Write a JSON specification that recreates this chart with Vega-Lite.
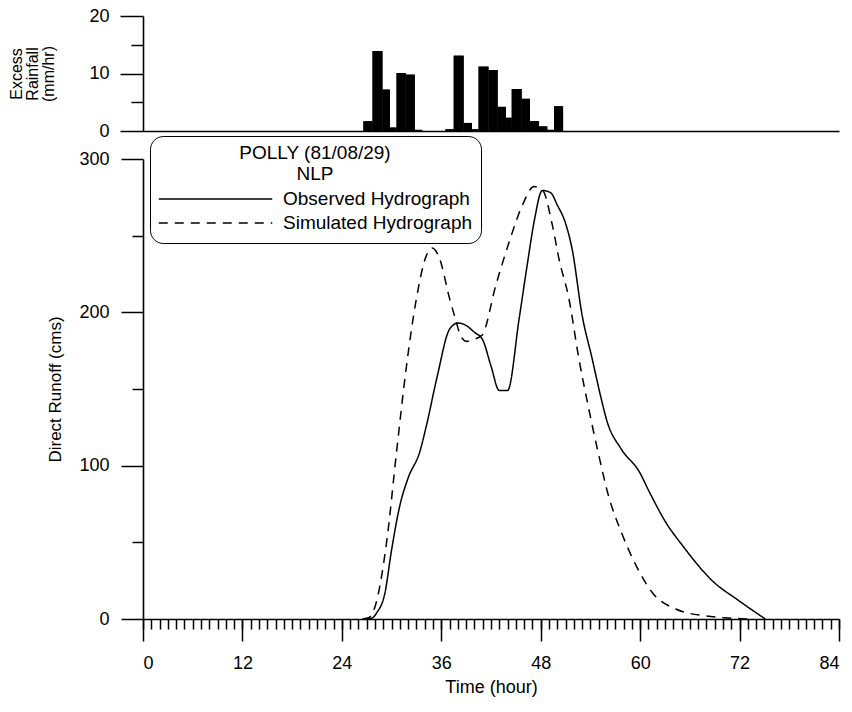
{
  "$schema": "https://vega.github.io/schema/vega-lite/v6.json",
  "background": "white",
  "padding": {"left": 8, "top": 7, "right": 2, "bottom": 2},
  "config": {
    "font": "Liberation Sans",
    "view": {"stroke": null},
    "axis": {
      "domainColor": "black", "tickColor": "black", "labelColor": "black", "titleColor": "black",
      "domainWidth": 1.6, "tickWidth": 1.5, "labelFontSize": 18, "titleFontSize": 17,
      "titleFontWeight": "normal", "grid": false
    }
  },
  "datasets": {
    "rain": [
      {"start": 26.6, "end": 27.7, "rain": 1.7},
      {"start": 27.7, "end": 28.9, "rain": 13.9},
      {"start": 28.9, "end": 29.8, "rain": 7.2},
      {"start": 29.8, "end": 30.6, "rain": 0.6},
      {"start": 30.6, "end": 31.7, "rain": 10.1},
      {"start": 31.7, "end": 32.8, "rain": 9.8},
      {"start": 32.8, "end": 33.7, "rain": 0.2},
      {"start": 36.5, "end": 37.5, "rain": 0.3},
      {"start": 37.5, "end": 38.7, "rain": 13.1},
      {"start": 38.7, "end": 39.7, "rain": 1.4},
      {"start": 39.7, "end": 40.5, "rain": 0.3},
      {"start": 40.5, "end": 41.7, "rain": 11.2},
      {"start": 41.7, "end": 42.8, "rain": 10.6},
      {"start": 42.8, "end": 43.8, "rain": 4.2},
      {"start": 43.8, "end": 44.5, "rain": 2.3},
      {"start": 44.5, "end": 45.7, "rain": 7.3},
      {"start": 45.7, "end": 46.7, "rain": 5.6},
      {"start": 46.7, "end": 47.8, "rain": 1.7},
      {"start": 47.8, "end": 48.8, "rain": 0.8},
      {"start": 48.8, "end": 49.6, "rain": 0.2},
      {"start": 49.6, "end": 50.7, "rain": 4.3}
    ],
    "flow": [
      {"series": "Observed Hydrograph", "hour": 27.0, "flow": 0},
      {"series": "Observed Hydrograph", "hour": 27.6, "flow": 0.5},
      {"series": "Observed Hydrograph", "hour": 28.2, "flow": 4},
      {"series": "Observed Hydrograph", "hour": 29.2, "flow": 17},
      {"series": "Observed Hydrograph", "hour": 30.0, "flow": 45},
      {"series": "Observed Hydrograph", "hour": 31.0, "flow": 74},
      {"series": "Observed Hydrograph", "hour": 32.0, "flow": 92},
      {"series": "Observed Hydrograph", "hour": 33.4, "flow": 109},
      {"series": "Observed Hydrograph", "hour": 34.2, "flow": 126},
      {"series": "Observed Hydrograph", "hour": 35.5, "flow": 158},
      {"series": "Observed Hydrograph", "hour": 37.0, "flow": 189},
      {"series": "Observed Hydrograph", "hour": 38.0, "flow": 193},
      {"series": "Observed Hydrograph", "hour": 38.8, "flow": 192},
      {"series": "Observed Hydrograph", "hour": 40.0, "flow": 187},
      {"series": "Observed Hydrograph", "hour": 41.0, "flow": 182},
      {"series": "Observed Hydrograph", "hour": 42.0, "flow": 165},
      {"series": "Observed Hydrograph", "hour": 43.0, "flow": 149},
      {"series": "Observed Hydrograph", "hour": 44.0, "flow": 149},
      {"series": "Observed Hydrograph", "hour": 45.4, "flow": 196},
      {"series": "Observed Hydrograph", "hour": 46.4, "flow": 232},
      {"series": "Observed Hydrograph", "hour": 47.2, "flow": 259},
      {"series": "Observed Hydrograph", "hour": 48.2, "flow": 279.5},
      {"series": "Observed Hydrograph", "hour": 49.2, "flow": 278},
      {"series": "Observed Hydrograph", "hour": 50.0, "flow": 270},
      {"series": "Observed Hydrograph", "hour": 51.0, "flow": 258},
      {"series": "Observed Hydrograph", "hour": 51.8, "flow": 241},
      {"series": "Observed Hydrograph", "hour": 53.0, "flow": 198},
      {"series": "Observed Hydrograph", "hour": 54.2, "flow": 170},
      {"series": "Observed Hydrograph", "hour": 55.2, "flow": 146},
      {"series": "Observed Hydrograph", "hour": 56.0, "flow": 129},
      {"series": "Observed Hydrograph", "hour": 57.7, "flow": 111},
      {"series": "Observed Hydrograph", "hour": 59.9, "flow": 96},
      {"series": "Observed Hydrograph", "hour": 61.1, "flow": 83},
      {"series": "Observed Hydrograph", "hour": 63.1, "flow": 63},
      {"series": "Observed Hydrograph", "hour": 65.1, "flow": 48},
      {"series": "Observed Hydrograph", "hour": 68.7, "flow": 25},
      {"series": "Observed Hydrograph", "hour": 71.9, "flow": 12},
      {"series": "Observed Hydrograph", "hour": 75.1, "flow": 0},
      {"series": "Simulated Hydrograph", "hour": 26.5, "flow": 0},
      {"series": "Simulated Hydrograph", "hour": 27.3, "flow": 1},
      {"series": "Simulated Hydrograph", "hour": 28.0, "flow": 8},
      {"series": "Simulated Hydrograph", "hour": 29.4, "flow": 50},
      {"series": "Simulated Hydrograph", "hour": 30.6, "flow": 109},
      {"series": "Simulated Hydrograph", "hour": 31.8, "flow": 165},
      {"series": "Simulated Hydrograph", "hour": 33.0, "flow": 209},
      {"series": "Simulated Hydrograph", "hour": 34.2, "flow": 237},
      {"series": "Simulated Hydrograph", "hour": 34.9, "flow": 242},
      {"series": "Simulated Hydrograph", "hour": 35.8, "flow": 235},
      {"series": "Simulated Hydrograph", "hour": 37.0, "flow": 209},
      {"series": "Simulated Hydrograph", "hour": 37.8, "flow": 194},
      {"series": "Simulated Hydrograph", "hour": 38.3, "flow": 185},
      {"series": "Simulated Hydrograph", "hour": 39.1, "flow": 181},
      {"series": "Simulated Hydrograph", "hour": 39.7, "flow": 182},
      {"series": "Simulated Hydrograph", "hour": 40.9, "flow": 185},
      {"series": "Simulated Hydrograph", "hour": 42.6, "flow": 218},
      {"series": "Simulated Hydrograph", "hour": 44.2, "flow": 246},
      {"series": "Simulated Hydrograph", "hour": 45.8, "flow": 270},
      {"series": "Simulated Hydrograph", "hour": 47.2, "flow": 282},
      {"series": "Simulated Hydrograph", "hour": 48.2, "flow": 280},
      {"series": "Simulated Hydrograph", "hour": 49.4, "flow": 257},
      {"series": "Simulated Hydrograph", "hour": 50.2, "flow": 235},
      {"series": "Simulated Hydrograph", "hour": 51.4, "flow": 209},
      {"series": "Simulated Hydrograph", "hour": 52.6, "flow": 170},
      {"series": "Simulated Hydrograph", "hour": 53.8, "flow": 137},
      {"series": "Simulated Hydrograph", "hour": 55.0, "flow": 107},
      {"series": "Simulated Hydrograph", "hour": 56.2, "flow": 80},
      {"series": "Simulated Hydrograph", "hour": 57.7, "flow": 57},
      {"series": "Simulated Hydrograph", "hour": 59.5, "flow": 35},
      {"series": "Simulated Hydrograph", "hour": 61.5, "flow": 17},
      {"series": "Simulated Hydrograph", "hour": 64.3, "flow": 6.5},
      {"series": "Simulated Hydrograph", "hour": 67.9, "flow": 2},
      {"series": "Simulated Hydrograph", "hour": 71.0, "flow": 0.5},
      {"series": "Simulated Hydrograph", "hour": 73.0, "flow": 0}
    ]
  },
  "bounds": "flush",
  "spacing": 28,
  "resolve": {"legend": {"strokeDash": "independent"}},
  "vconcat": [
    {
      "width": 696,
      "height": 115,
      "data": {"name": "rain"},
      "layer": [
        {
          "mark": {"type": "rect", "color": "black"},
          "encoding": {
            "x": {"field": "start", "type": "quantitative", "scale": {"domain": [0, 84], "nice": false},
                  "axis": {"orient": "bottom", "ticks": false, "labels": false, "title": null, "domain": true}},
            "x2": {"field": "end"},
            "y": {"field": "rain", "type": "quantitative", "scale": {"domain": [0, 20], "nice": false},
                  "axis": {"orient": "left", "values": [0, 10, 20], "tickSize": 23, "labelPadding": 11,
                           "title": ["Excess", "Rainfall", "(mm/hr)"], "titleFontSize": 16, "titlePadding": 32, "titleLineHeight": 16}},
            "y2": {"datum": 0}
          }
        },
        {
          "mark": {"type": "rect", "color": "black"},
          "encoding": {
            "x": {"field": "start", "type": "quantitative", "scale": {"domain": [0, 84], "nice": false},
                  "axis": {"orient": "bottom", "ticks": false, "labels": false, "title": null, "domain": true}},
            "x2": {"field": "end"},
            "y": {"field": "rain", "type": "quantitative", "scale": {"domain": [0, 20], "nice": false},
                  "axis": {"orient": "left", "values": [5, 15], "tickSize": 12, "labels": false, "domain": false, "title": null}},
            "y2": {"datum": 0}
          }
        }
      ],
      "resolve": {"axis": {"y": "independent"}}
    },
    {
      "width": 696,
      "height": 460,
      "data": {"name": "flow"},
      "layer": [
        {
          "mark": {"type": "line", "color": "black", "strokeWidth": 1.5, "interpolate": "monotone"},
          "encoding": {
            "x": {"field": "hour", "type": "quantitative", "scale": {"domain": [0, 84], "nice": false},
                  "axis": {"orient": "bottom", "values": [0, 12, 24, 36, 48, 60, 72, 84], "tickSize": 22,
                           "labelPadding": 13, "title": "Time (hour)", "titleFontSize": 18, "titlePadding": 6}},
            "y": {"field": "flow", "type": "quantitative", "scale": {"domain": [0, 300], "nice": false},
                  "axis": {"orient": "left", "values": [0, 100, 200, 300], "tickSize": 22, "labelPadding": 12,
                           "title": "Direct Runoff (cms)", "titlePadding": 14}},
            "strokeDash": {
              "field": "series", "type": "nominal",
              "scale": {"domain": ["Observed Hydrograph", "Simulated Hydrograph"], "range": [[1, 0], [9, 7]]},
              "legend": {
                "orient": "none", "legendX": 7, "legendY": -23,
                "title": ["POLLY (81/08/29)", "NLP"],
                "titleAnchor": "middle", "titleAlign": "center",
                "titleFontSize": 19, "titleFontWeight": "normal", "titleLineHeight": 21, "titleColor": "black",
                "titlePadding": 3,
                "labelFontSize": 19, "labelColor": "black", "labelOffset": 10, "labelLimit": 400,
                "symbolType": "stroke", "symbolSize": 12880, "symbolStrokeWidth": 1.5, "symbolStrokeColor": "black",
                "clipHeight": 24, "rowPadding": 0,
                "strokeColor": "black", "cornerRadius": 13, "padding": 8, "fillColor": "white"
              }
            }
          }
        },
        {
          "mark": {"type": "line", "strokeOpacity": 0},
          "encoding": {
            "x": {"field": "hour", "type": "quantitative", "scale": {"domain": [0, 84], "nice": false},
                  "axis": {"orient": "bottom", "values": [0,1,2,3,4,5,6,7,8,9,10,11,12,13,14,15,16,17,18,19,20,21,22,23,24,25,26,27,28,29,30,31,32,33,34,35,36,37,38,39,40,41,42,43,44,45,46,47,48,49,50,51,52,53,54,55,56,57,58,59,60,61,62,63,64,65,66,67,68,69,70,71,72,73,74,75,76,77,78,79,80,81,82,83,84],
                           "tickSize": 10, "labels": false, "domain": false, "title": null}},
            "y": {"field": "flow", "type": "quantitative", "scale": {"domain": [0, 300], "nice": false},
                  "axis": {"orient": "left", "values": [50, 150, 250], "tickSize": 11, "labels": false, "domain": false, "title": null}},
            "detail": {"field": "series", "type": "nominal"}
          }
        }
      ],
      "resolve": {"axis": {"x": "independent", "y": "independent"}}
    }
  ]
}
